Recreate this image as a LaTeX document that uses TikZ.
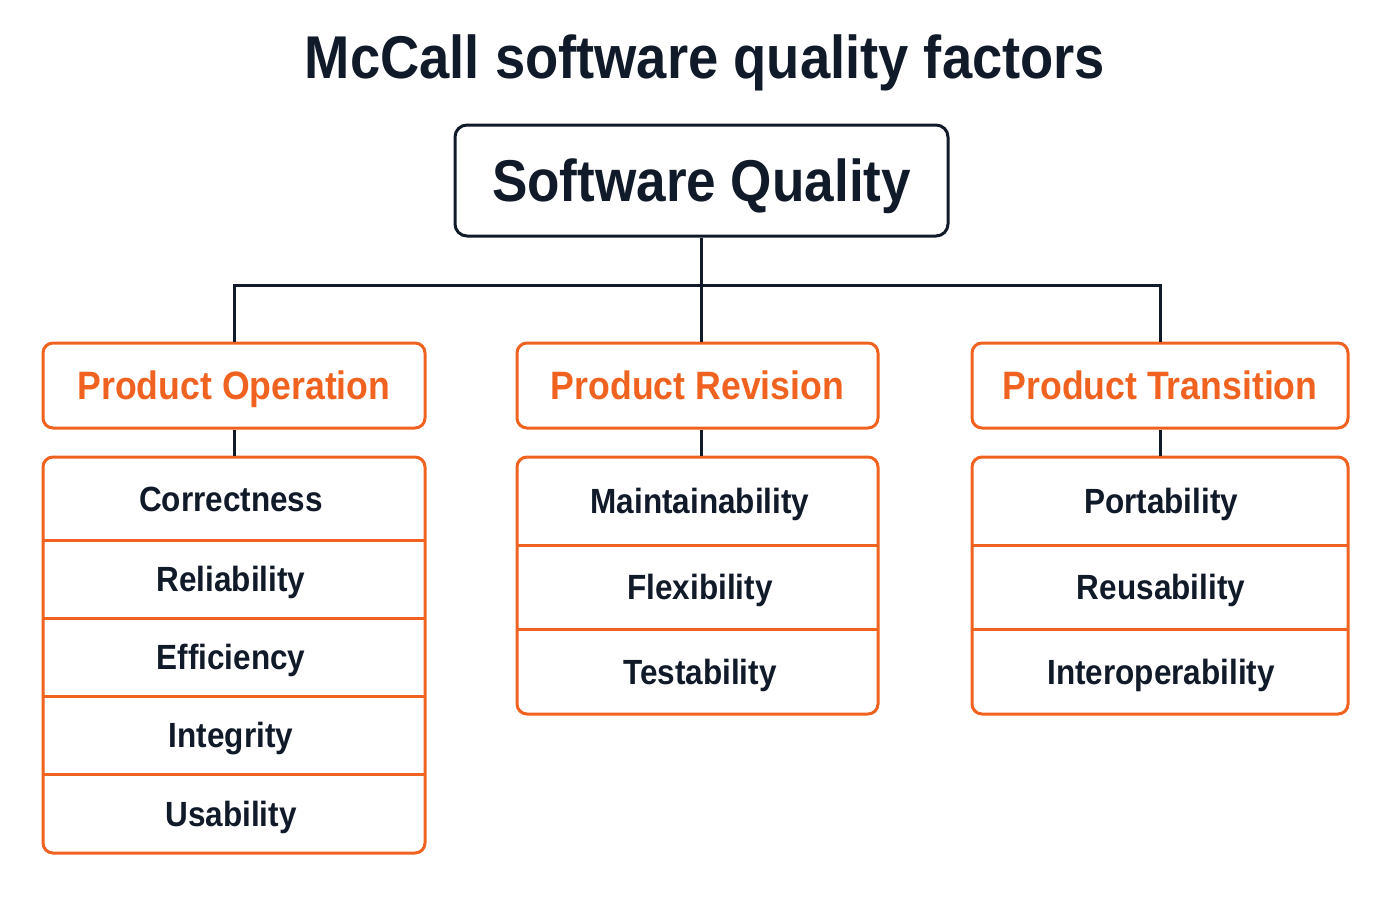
\documentclass[tikz,border=0pt]{standalone}
\usepackage{fontspec}
\setmainfont{Liberation Sans}[FakeStretch=0.9]
\definecolor{ink}{HTML}{111A28}
\definecolor{accent}{HTML}{F0621F}
\tikzset{
  topbox/.style={draw=ink, line width=1.5pt, rounded corners=6pt, minimum width=246.5pt, minimum height=55.5pt,
    font=\fontsize{29.5}{32}\selectfont\bfseries, text=ink, text height=21pt, text depth=0pt},
  groupbox/.style={draw=accent, line width=1.5pt, rounded corners=5pt, minimum height=42.5pt,
    font=\fontsize{19.8}{22}\selectfont\bfseries, text=accent, text height=14.2pt, text depth=0pt},
  listbox/.style={draw=accent, line width=1.5pt, rounded corners=5pt},
  item/.style={font=\fontsize{17.5}{20}\selectfont\bfseries, text=ink, text height=12.5pt, text depth=0pt},
  link/.style={draw=ink, line width=1.5pt}
}

\begin{document}
\begin{tikzpicture}[x=0.5pt,y=-0.5pt]
            \useasboundingbox (0,0) rectangle (1400,900);
            \node[font=\fontsize{30.2}{33}\selectfont\bfseries, text=ink, text height=21.7pt, text depth=0pt] (title) at (705,57) {McCall software quality factors};
            \node[topbox] (sq) at (701.5,180.5) {Software Quality};
            \node[groupbox, minimum width=191pt] (po) at (234,385.5) {Product Operation};
            \node[groupbox, minimum width=180.5pt] (pr) at (697.5,385.5) {Product Revision};
            \node[groupbox, minimum width=188pt] (pt) at (1160,385.5) {Product Transition};
            \node[listbox, minimum width=191pt, minimum height=198pt] (pol) at (234,655) {};
            \node[listbox, minimum width=180.5pt, minimum height=128.5pt] (prl) at (697.5,585.5) {};
            \node[listbox, minimum width=188pt, minimum height=128.5pt] (ptl) at (1160,585.5) {};
            % row dividers
            \foreach \y in {540,618,696,774} \draw[accent, line width=1.5pt] (43,\y) -- (425,\y);
            \foreach \y in {545,629} \draw[accent, line width=1.5pt] (517,\y) -- (878,\y);
            \foreach \y in {545,629} \draw[accent, line width=1.5pt] (972,\y) -- (1348,\y);
            % factors
            \foreach \t/\y [count=\i] in {Correctness/498.5, Reliability/579, Efficiency/657, Integrity/735, Usability/813.5}
                \node[item] (po\i) at (231,\y) {\t};
            \foreach \t/\y [count=\i] in {Maintainability/501, Flexibility/587, Testability/671.5}
                \node[item] (pr\i) at (700,\y) {\t};
            \foreach \t/\y [count=\i] in {Portability/501, Reusability/587, Interoperability/671.5}
                \node[item] (pt\i) at (1161,\y) {\t};
            % tree links
            \coordinate (hub) at (701.5,285);
            \draw[link] (sq.south) -- (hub);
            \draw[link] (hub) -| (po.north);
            \draw[link] (hub) -| (pt.north);
            \draw[link] (hub) -- (hub |- pr.north);
            \draw[link] (po.south) -- (pol.north);
            \draw[link] (pr.south -| hub) -- (prl.north -| hub);
            \draw[link] (pt.south) -- (ptl.north);
        \end{tikzpicture}
\end{document}
